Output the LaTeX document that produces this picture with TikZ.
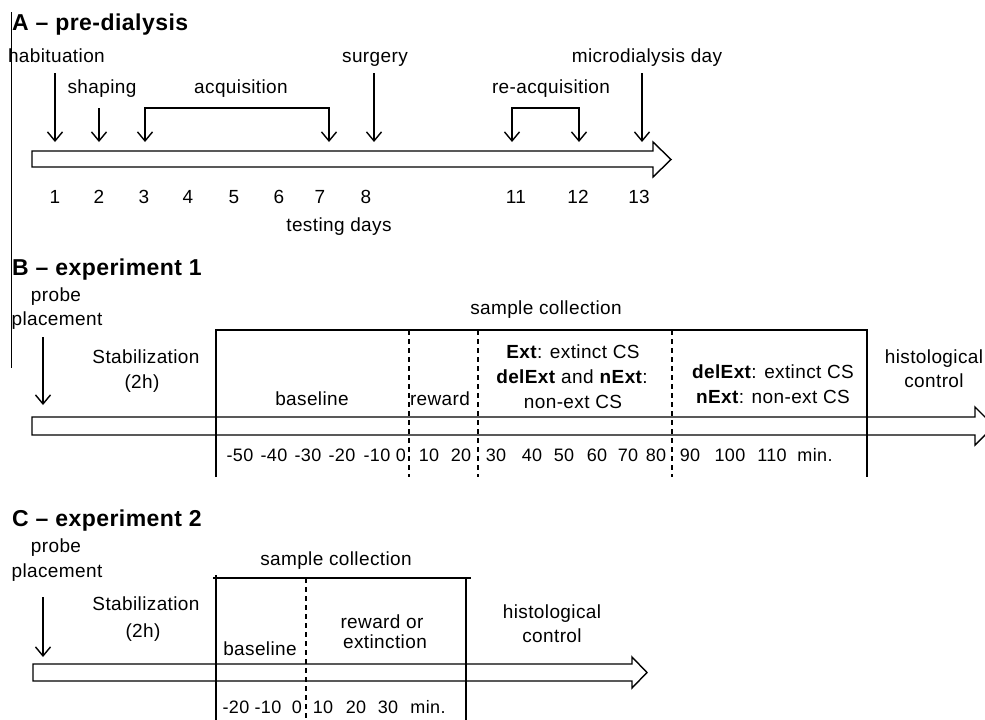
\documentclass[tikz,border=0pt]{standalone}
\usepackage{fontspec}
\setmainfont[LetterSpace=2]{Liberation Sans}
\usetikzlibrary{arrows.meta}
\begin{document}
\begin{tikzpicture}[x=1pt,y=-1pt,
  lbl/.style={font=\fontsize{19}{22}\selectfont, inner sep=0pt, anchor=base},
  numlbl/.style={font=\fontsize{18}{22}\selectfont, inner sep=0pt, anchor=base},
  ttl/.style={font=\fontsize{23}{26}\selectfont\bfseries, inner sep=0pt, anchor=base west},
  ln/.style={line width=1.4pt},
  tipd/.style={ln, -{Straight Barb[length=9pt,width=15pt]}},
  brk/.style={ln, {Straight Barb[length=9pt,width=15pt]}-{Straight Barb[length=9pt,width=15pt]}},
  dsh/.style={line width=1.2pt, dash pattern=on 5pt off 4pt},
  timeline/.style={ln, line join=miter}]
\useasboundingbox (0,0) rectangle (985,720);

% stray left rule
\draw[line width=1pt] (11,12) -- (11,368);

% ================= Panel A =================
\node[ttl] (tA) at (12,30) {A \textendash\ pre-dialysis};
\node[lbl, anchor=base east] (hab) at (105,62) {habituation};
\node[lbl] (surg) at (375,62) {surgery};
\node[lbl] (micro) at (647,62) {microdialysis day};
\node[lbl] (shap) at (102,93) {shaping};
\node[lbl] (acq) at (241,93) {acquisition};
\node[lbl] (reacq) at (551,93) {re-acquisition};

\coordinate (habT) at (55,73);  \coordinate (habE) at (55,142);
\coordinate (shaT) at (99,108); \coordinate (shaE) at (99,142);
\coordinate (surT) at (374,73); \coordinate (surE) at (374,142);
\coordinate (micT) at (642,73); \coordinate (micE) at (642,142);
\coordinate (acqL) at (145,142); \coordinate (acqR) at (329,142);
\coordinate (reaL) at (512,142); \coordinate (reaR) at (579,142);

\draw[tipd] (habT) -- (habE);
\draw[tipd] (shaT) -- (shaE);
\draw[tipd] (surT) -- (surE);
\draw[tipd] (micT) -- (micE);
\draw[brk] (acqL) -- ++(0,-34) -| (acqR);
\draw[brk] (reaL) -- ++(0,-34) -| (reaR);

\draw[timeline] (32,151) -- (653,151) -- (653,142) -- (671,159.5) -- (653,177) -- (653,167) -- (32,167) -- cycle;

\foreach \n/\x in {1/55,2/99,3/144,4/188,5/234,6/279,7/320,8/366,11/516,12/578,13/639}
  \node[lbl] (dA\n) at (\x,203) {\n};
\node[lbl] (tdays) at (339,231) {testing days};

% ================= Panel B =================
\node[ttl] (tB) at (12,275) {B \textendash\ experiment 1};
\node[lbl] (probB1) at (56,301) {probe};
\node[lbl] (probB2) at (57,325) {placement};
\coordinate (pbT) at (43,337); \coordinate (pbE) at (43,405);
\draw[tipd] (pbT) -- (pbE);
\node[lbl] (stabB1) at (146,363) {Stabilization};
\node[lbl] (stabB2) at (142,388) {(2h)};
\node[lbl] (sampB) at (546,314) {sample collection};

\draw[ln] (216,477) -- (216,330) -- (867,330) -- (867,477);
\draw[dsh] (409,330) -- (409,477);
\draw[dsh] (478,330) -- (478,477);
\draw[dsh] (672,330) -- (672,477);

\node[lbl] (baseB) at (312,405) {baseline};
\node[lbl] (rewB) at (440,405) {reward};
\node[lbl] (extB1) at (573,358) {\textbf{Ext}: extinct CS};
\node[lbl] (extB2) at (572,383) {\textbf{delExt} and \textbf{nExt}:};
\node[lbl] (extB3) at (573,408) {non-ext CS};
\node[lbl] (delB1) at (773,378) {\textbf{delExt}: extinct CS};
\node[lbl] (delB2) at (773,403) {\textbf{nExt}: non-ext CS};
\node[lbl] (histB1) at (934,363) {histological};
\node[lbl] (histB2) at (934,387) {control};

\draw[timeline] (32,417) -- (975,417) -- (975,407) -- (994,426) -- (975,445) -- (975,435) -- (32,435) -- cycle;

\foreach \n/\x [count=\i] in {-50/240,-40/274,-30/308,-20/342,-10/377,0/401,10/429,20/461,30/496,40/532,50/564,60/597,70/628,80/656,90/690,100/730,110/772,min./815}
  \node[numlbl] (nB\i) at (\x,461) {\n};

% ================= Panel C =================
\node[ttl] (tC) at (12,526) {C \textendash\ experiment 2};
\node[lbl] (probC1) at (56,552) {probe};
\node[lbl] (probC2) at (57,577) {placement};
\coordinate (pcT) at (43,597); \coordinate (pcE) at (43,657);
\draw[tipd] (pcT) -- (pcE);
\node[lbl] (stabC1) at (146,610) {Stabilization};
\node[lbl] (stabC2) at (143,637) {(2h)};
\node[lbl] (sampC) at (336,565) {sample collection};

\draw[ln] (213,578) -- (471,578);
\draw[ln] (216,575) -- (216,725);
\draw[ln] (466,578) -- (466,725);
\draw[dsh] (306,578) -- (306,725);

\node[lbl] (baseC) at (260,655) {baseline};
\node[lbl] (rewC1) at (382,628) {reward or};
\node[lbl] (rewC2) at (385,648) {extinction};
\node[lbl] (histC1) at (552,618) {histological};
\node[lbl] (histC2) at (552,642) {control};

\draw[timeline] (33,664) -- (632,664) -- (632,657) -- (647,672.5) -- (632,688) -- (632,681) -- (33,681) -- cycle;

\foreach \n/\x [count=\i] in {-20/236,-10/268,0/297,10/323,20/356,30/388,min./428}
  \node[numlbl] (nC\i) at (\x,713) {\n};
\end{tikzpicture}
\end{document}
